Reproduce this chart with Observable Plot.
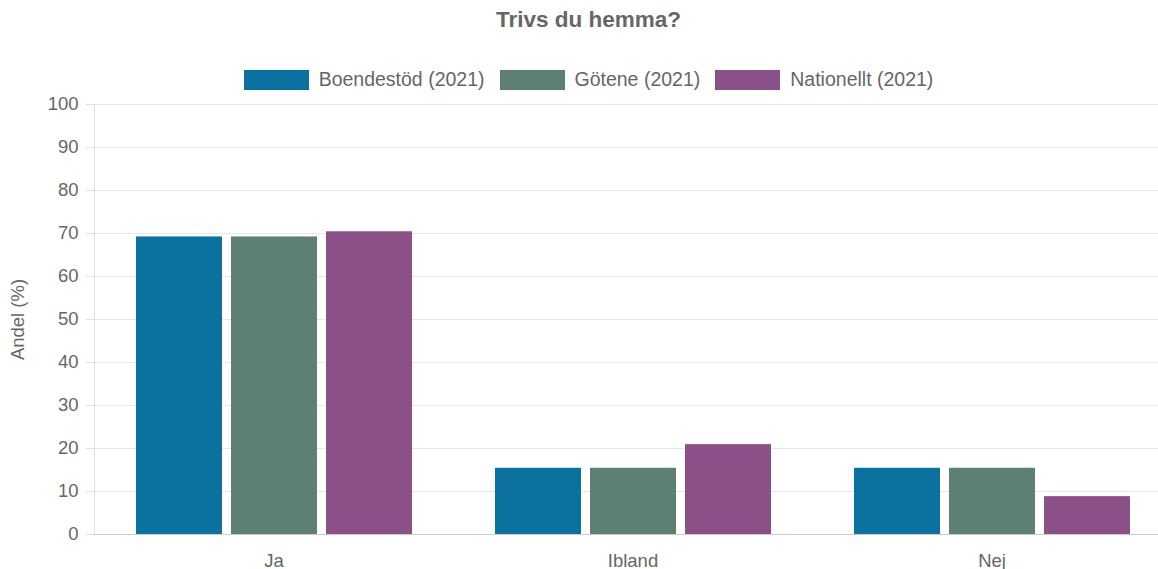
<!DOCTYPE html>
<html>
<head>
<meta charset="utf-8">
<script src="https://cdn.jsdelivr.net/npm/d3@7"></script>
<script src="https://cdn.jsdelivr.net/npm/@observablehq/plot@0.6"></script>
<style>
  html, body { margin: 0; padding: 0; background: #fff; overflow: hidden; }
  #wrap { width: 1177px; font-family: "Liberation Sans", Arial, Helvetica, sans-serif; color: #666; }
  #title { height: 40px; line-height: 40px; text-align: center; font-size: 22.5px; font-weight: bold; color: #666; }
  #legend { height: 54px; box-sizing: border-box; padding-top: 25px; display: flex; justify-content: center; align-items: center; font-size: 19.5px; color: #666; }
  .item { display: flex; align-items: center; height: 20px; margin: 0 7.5px; }
  .sw { width: 65px; height: 20px; margin-right: 10px; box-sizing: border-box; }
  #chart svg { display: block; overflow: visible; }
</style>
</head>
<body>
<div id="wrap">
  <div id="title"></div>
  <div id="legend"></div>
  <div id="chart"></div>
</div>
<script>
const title = "Trivs du hemma?";
const yLabel = "Andel (%)";
const categories = ["Ja", "Ibland", "Nej"];
const series = ["Boendestöd (2021)", "Götene (2021)", "Nationellt (2021)"];
const boendestod = [69.2, 15.4, 15.4];
const gotene = [69.2, 15.4, 15.4];
const nationellt = [70.4, 20.9, 8.8];
const colors = ["#0b72a0", "#5d8073", "#8b5087"];
const yTicks = [0, 10, 20, 30, 40, 50, 60, 70, 80, 90, 100];

const seriesValues = [boendestod, gotene, nationellt];
const data = categories.flatMap((c, i) =>
  series.map((s, j) => ({category: c, series: s, value: seriesValues[j][i]}))
);

document.getElementById("title").textContent = title;
const legend = document.getElementById("legend");
series.forEach((s, j) => {
  const it = document.createElement("div");
  it.className = "item";
  const sw = document.createElement("span");
  sw.className = "sw";
  sw.style.background = colors[j];
  const tx = document.createElement("span");
  tx.textContent = s;
  it.appendChild(sw);
  it.appendChild(tx);
  legend.appendChild(it);
});

const chart = Plot.plot({
  width: 1177,
  height: 475,
  marginTop: 10,
  marginBottom: 35,
  marginLeft: 94,
  marginRight: 6,
  style: {fontFamily: "'Liberation Sans', Arial, Helvetica, sans-serif", fontSize: "18.5px", color: "#666", background: "#fff"},
  fx: {domain: categories, paddingInner: 0, paddingOuter: 0, label: null},
  x: {domain: series, paddingInner: 0.1, paddingOuter: 0.43, axis: null},
  y: {domain: [0, 100], label: null},
  color: {domain: series, range: colors},
  marks: [
    Plot.gridY(yTicks, {stroke: "#e6e6e6", strokeOpacity: 1}),
    Plot.axisFx({anchor: "bottom", tickSize: 0, tickPadding: 19, label: null, fill: "#666"}),
    Plot.axisY(yTicks, {tickSize: 8, tickPadding: 8, stroke: "#e0e0e0", fill: "#666", label: yLabel, labelAnchor: "center", labelArrow: "none", labelOffset: 84}),
    Plot.frame({anchor: "left", facetAnchor: "left", stroke: "#e0e0e0"}),
    Plot.barY(data, {fx: "category", x: "series", y: "value", fill: "series"}),
    Plot.ruleY([0], {stroke: "#cccccc"})
  ]
});
document.getElementById("chart").appendChild(chart);
</script>
</body>
</html>
